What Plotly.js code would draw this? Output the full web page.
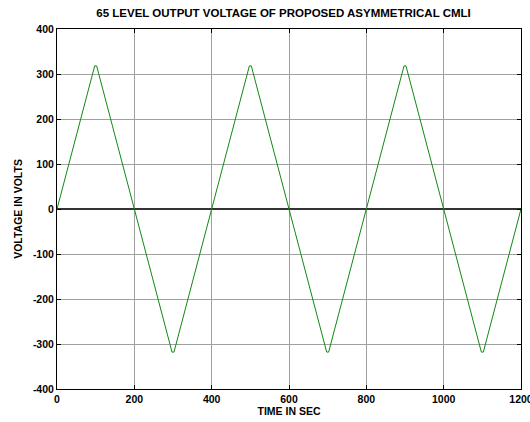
<!DOCTYPE html>
<html>
<head>
<meta charset="utf-8">
<script src="https://cdn.plot.ly/plotly-3.0.1.min.js"></script>
<style>html,body{margin:0;padding:0;background:#fff;}#chart{width:530px;height:422px;}</style>
</head>
<body>
<div id="chart"></div>
<script>
// Vertices of the staircase triangular output voltage (time in sec, voltage in volts)
const timeSec = [0, 97.5, 102.5, 297.5, 302.5, 497.5, 502.5, 697.5, 702.5, 897.5, 902.5, 1097.5, 1102.5, 1200];
const voltage = [0, 318, 318, -318, -318, 318, 318, -318, -318, 318, 318, -318, -318, 0];
const xTicks = [0, 200, 400, 600, 800, 1000, 1200];
const yTicks = [-400, -300, -200, -100, 0, 100, 200, 300, 400];

const font = {family: 'Liberation Sans, Arial, sans-serif', size: 10.5, color: '#000', weight: 'bold'};

const trace = {
  x: timeSec, y: voltage, type: 'scatter', mode: 'lines',
  line: {color: '#108a10', width: 1}, hoverinfo: 'skip'
};

const axisCommon = {
  showline: true, linecolor: '#000', linewidth: 1, mirror: 'allticks',
  ticks: 'inside', ticklen: 4, tickcolor: '#000',
  showgrid: true, gridcolor: '#a0a0a0', gridwidth: 1,
  tickfont: font, ticklabeloverflow: 'allow'
};

const layout = {
  width: 530, height: 422,
  margin: {l: 57, r: 9, t: 29, b: 33},
  paper_bgcolor: '#fff', plot_bgcolor: '#fff',
  showlegend: false,
  font: font,
  title: {text: '65 LEVEL OUTPUT VOLTAGE OF PROPOSED ASYMMETRICAL CMLI',
          font: {family: font.family, size: 11.5, color: '#000', weight: 'bold'},
          x: 0.535, xanchor: 'center', y: 0.97, yanchor: 'middle'},
  xaxis: Object.assign({}, axisCommon, {
    range: [0, 1200], tickvals: xTicks, ticktext: xTicks.map(String),
    zeroline: false,
    title: {text: 'TIME IN SEC', font: font, standoff: 3}
  }),
  yaxis: Object.assign({}, axisCommon, {
    range: [-400, 400], tickvals: yTicks, ticktext: yTicks.map(String),
    zeroline: true, zerolinecolor: '#333', zerolinewidth: 1.5,
    title: {text: 'VOLTAGE IN VOLTS', font: font, standoff: 8}
  })
};

Plotly.newPlot('chart', [trace], layout, {displayModeBar: false, staticPlot: true});
</script>
</body>
</html>
